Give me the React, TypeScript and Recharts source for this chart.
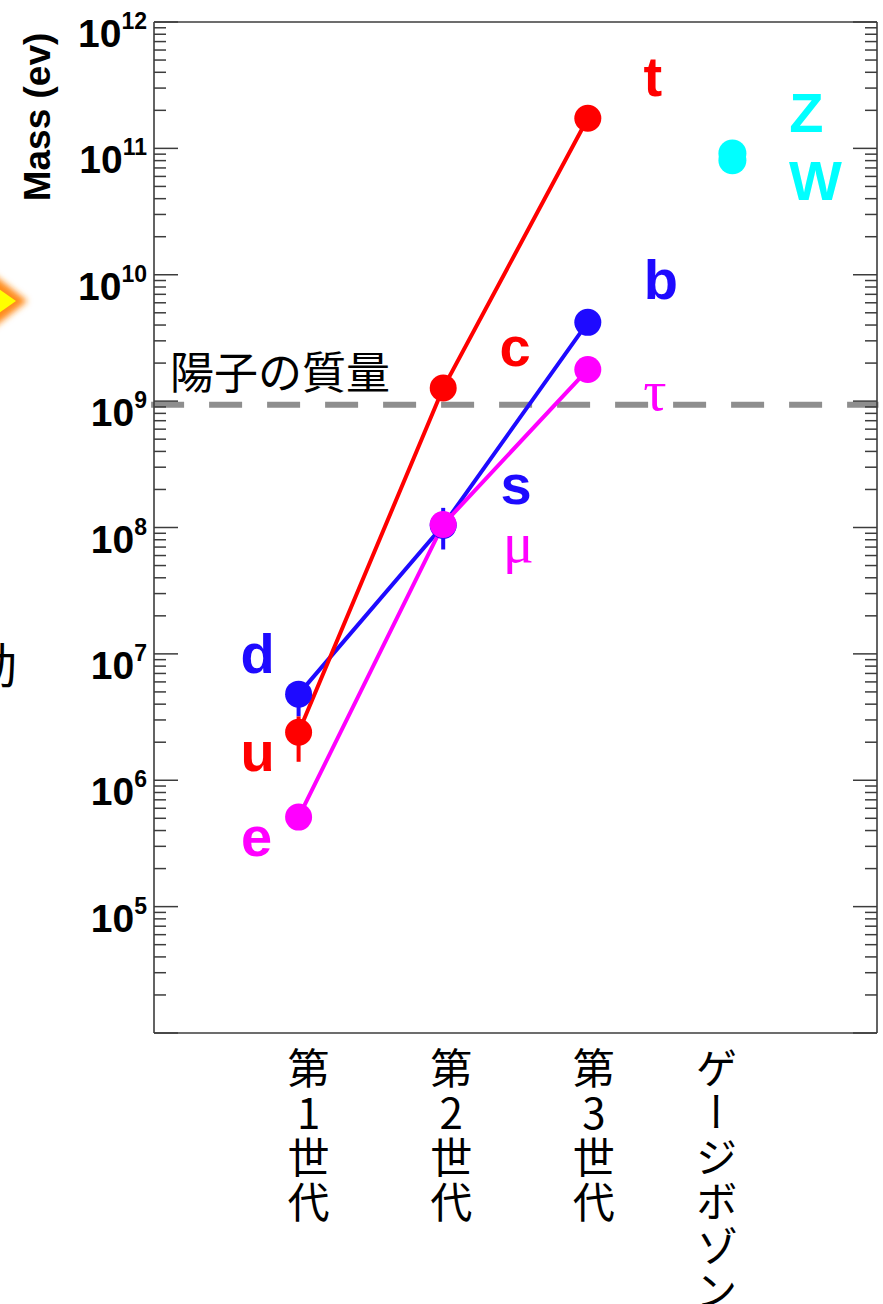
import React from "react";
import { ComposedChart, ErrorBar, LabelList, Line, ReferenceLine, XAxis, YAxis } from "recharts";

const W = 883;
const H = 1304;

// x categories (numeric positions on a 0..5 axis)
const CATEGORIES = ["第1世代", "第2世代", "第3世代", "ゲージボゾン"];
const CATEGORY_POS = [1, 2, 3, 4];

// up-type quarks
const UP_NAMES = ["u", "c", "t"];
const UP_MASS = [2.4e6, 1.27e9, 1.73e11];
const UP_ERR: [number, number][] = [[1.0e6, 0.8e6], [0, 0], [0, 0]];

// down-type quarks
const DOWN_NAMES = ["d", "s", "b"];
const DOWN_MASS = [4.8e6, 1.04e8, 4.2e9];
const DOWN_ERR: [number, number][] = [[1.6e6, 0.7e6], [3.7e7, 3.9e7], [0, 0]];

// charged leptons
const LEPTON_NAMES = ["e", "μ", "τ"];
const LEPTON_MASS = [5.11e5, 1.057e8, 1.777e9];

// gauge bosons
const BOSON_NAMES = ["Z", "W"];
const BOSON_MASS = [9.12e10, 8.04e10];
const BOSON_POS = [4, 4];

const PROTON_MASS = 9.38e8;

// axis
const DECADES = [4, 5, 6, 7, 8, 9, 10, 11, 12];
const MINOR_STEPS = [2, 3, 4, 5, 6, 7, 8, 9];
const Y_TICKS = [
  ...DECADES.map((d) => Math.pow(10, d)),
  ...DECADES.slice(0, -1).flatMap((d) => MINOR_STEPS.map((k) => k * Math.pow(10, d))),
].sort((a, b) => a - b);

const RED = "#ff0000";
const BLUE = "#1e0aff";
const MAGENTA = "#ff00ff";
const CYAN = "#00ffff";
const FRAME = "#3c3c3c";
const SANS = "'Liberation Sans', Arial, Helvetica, sans-serif";
const SERIF = "'Liberation Serif', 'Times New Roman', serif";
const CJK = "'Noto Sans CJK JP', 'Noto Sans CJK SC', sans-serif";

// letter label offsets from the marker: [dx, baseline dy]
const LETTER_OFFSET: Record<string, [number, number]> = {
  t: [65, -22],
  c: [72, -22],
  b: [73, -23],
  "τ": [67, 40],
  s: [73, -21],
  "μ": [75, 38],
  d: [-41, -21],
  u: [-41, 39],
  e: [-42, 39],
  Z: [74, -21],
  W: [83, 40],
};
const GREEK = ["μ", "τ"];

// small horizontal nudge of the vertical category labels
const CATEGORY_DX = [10, 8, 6, -16];
const ROW = 44.5;

const build = (pos: number[], names: string[], mass: number[], err?: [number, number][]) =>
  names.map((name, i) => ({ x: pos[i], mass: mass[i], name, err: err ? err[i] : [0, 0] }));

const upData = build(CATEGORY_POS, UP_NAMES, UP_MASS, UP_ERR);
const downData = build(CATEGORY_POS, DOWN_NAMES, DOWN_MASS, DOWN_ERR);
const leptonData = build(CATEGORY_POS, LEPTON_NAMES, LEPTON_MASS);
const bosonData = build(BOSON_POS, BOSON_NAMES, BOSON_MASS);

const isMajor = (v: number) => Math.abs(Math.log10(v) - Math.round(Math.log10(v))) < 1e-6;

function LeftTick(props: any) {
  const { x, y, payload } = props;
  const v = payload.value;
  const major = isMajor(v);
  const exp = Math.round(Math.log10(v));
  return (
    <g>
      <line x1={x} x2={x + (major ? 24 : 12)} y1={y} y2={y} stroke={FRAME} strokeWidth={1.5} />
      {major && exp > 4 && (
        <text x={x - 7} y={y + 25} textAnchor="end" fontFamily={SANS} fontWeight="bold" fontSize={39} fill="#000">
          10
          <tspan dy={-18} fontSize={23}>
            {exp}
          </tspan>
        </text>
      )}
    </g>
  );
}

function RightTick(props: any) {
  const { x, y, payload } = props;
  const len = isMajor(payload.value) ? 24 : 12;
  return <line x1={x - len} x2={x} y1={y} y2={y} stroke={FRAME} strokeWidth={1.5} />;
}

function CategoryTick(props: any) {
  const { x, y, payload } = props;
  const idx = CATEGORY_POS.indexOf(payload.value);
  if (idx < 0) return null;
  const cx = x + CATEGORY_DX[idx];
  const label = CATEGORIES[idx];
  if (label.includes("ー")) {
    // katakana: real vertical writing so the long vowel mark turns upright
    return (
      <text
        x={cx}
        y={y + 14}
        fontFamily={CJK}
        fontSize={42}
        fill="#000"
        letterSpacing={2.5}
        style={{ writingMode: "vertical-rl" } as any}
      >
        {label}
      </text>
    );
  }
  const chars = Array.from(label);
  return (
    <text fontFamily={CJK} fontSize={42} fill="#000" textAnchor="middle">
      {chars.map((ch, i) => (
        <tspan key={i} x={cx} y={y + 51 + i * ROW}>
          {ch}
        </tspan>
      ))}
    </text>
  );
}

function Letter(props: any) {
  const px = props.x ?? props.viewBox?.x;
  const py = props.y ?? props.viewBox?.y;
  const name = String(props.value);
  const off = LETTER_OFFSET[name];
  if (px == null || py == null || !off) return null;
  const greek = GREEK.includes(name);
  return (
    <text
      x={px + off[0]}
      y={py + off[1]}
      textAnchor="middle"
      fill={props.color}
      fontFamily={greek ? SERIF : SANS}
      fontWeight={greek ? "normal" : "bold"}
      fontSize={greek ? 58 : 56}
    >
      {name}
    </text>
  );
}

function ProtonLabel(props: any) {
  const vb = props.viewBox || { x: 151, y: 405 };
  return (
    <text x={vb.x + 19} y={vb.y - 16} fontFamily={CJK} fontSize={44} fill="#000">
      陽子の質量
    </text>
  );
}

function MassLabel(props: any) {
  const vb = props.viewBox || { x: 54, y: 22 };
  const bx = vb.x - 4;
  const cy = vb.y + 95;
  return (
    <text
      transform={`translate(${bx} ${cy}) rotate(-90)`}
      textAnchor="middle"
      fontFamily={SANS}
      fontWeight="bold"
      fontSize={37}
      fill="#000"
    >
      Mass (ev)
    </text>
  );
}

const dotStyle = (c: string, r = 13.5) => ({ r, fill: c, stroke: c, strokeWidth: 0 });

export default function App() {
  return (
    <div style={{ position: "absolute", left: 0, top: 0, width: W, height: H, background: "#fff", overflow: "hidden" }}>
      {/* pieces of the neighbouring slide that are cut off at the left edge */}
      <svg width={W} height={H} style={{ position: "absolute", left: 0, top: 0 }}>
        <defs>
          <filter id="glow" x="-50%" y="-50%" width="200%" height="200%">
            <feGaussianBlur stdDeviation="3" />
          </filter>
        </defs>
        <polygon points="-40,257 16,301 -40,345" fill="#ff8c1a" stroke="#ff8c1a" strokeWidth={14} filter="url(#glow)" />
        <polygon points="-40,262 16,301 -40,340" fill="#ffff00" />
        <text x={17} y={683} textAnchor="end" fontFamily={CJK} fontSize={48} fill="#000">
          動
        </text>
      </svg>
      <div style={{ position: "absolute", left: 0, top: 0 }}>
        <ComposedChart width={W} height={H} margin={{ top: 20, right: 0, bottom: 0, left: 54 }}>
          <XAxis
            type="number"
            dataKey="x"
            domain={[0, 5]}
            ticks={CATEGORY_POS}
            height={271}
            tickSize={0}
            tickMargin={0}
            tickLine={false}
            axisLine={{ stroke: FRAME, strokeWidth: 1.6 }}
            tick={<CategoryTick />}
            allowDataOverflow
          />
          <XAxis
            xAxisId="top"
            orientation="top"
            type="number"
            domain={[0, 5]}
            height={2}
            tick={false}
            tickLine={false}
            axisLine={{ stroke: FRAME, strokeWidth: 1.6 }}
          />
          <YAxis
            type="number"
            scale="log"
            domain={[1e4, 1e12]}
            ticks={Y_TICKS}
            interval={0}
            width={100}
            tickSize={0}
            tickMargin={0}
            tickLine={false}
            axisLine={{ stroke: FRAME, strokeWidth: 1.6 }}
            tick={<LeftTick />}
            label={<MassLabel />}
            allowDataOverflow
          />
          <YAxis
            yAxisId="right"
            orientation="right"
            type="number"
            scale="log"
            domain={[1e4, 1e12]}
            ticks={Y_TICKS}
            interval={0}
            width={6}
            tickSize={0}
            tickMargin={0}
            tickLine={false}
            axisLine={{ stroke: FRAME, strokeWidth: 1.6 }}
            tick={<RightTick />}
            allowDataOverflow
          />
          <ReferenceLine
            segment={[
              { x: -0.02, y: PROTON_MASS },
              { x: 5.01, y: PROTON_MASS },
            ]}
            ifOverflow="visible"
            stroke="#8e8e8e"
            strokeWidth={6}
            strokeDasharray="33 25"
            label={<ProtonLabel />}
          />

          <Line
            data={downData}
            dataKey="mass"
            stroke={BLUE}
            strokeWidth={4}
            dot={dotStyle(BLUE)}
            activeDot={false}
            isAnimationActive={false}
          >
            <ErrorBar dataKey="err" direction="y" width={0} stroke={BLUE} strokeWidth={4} />
            <LabelList dataKey="name" content={(p: any) => <Letter {...p} color={BLUE} />} />
          </Line>
          <Line
            data={upData}
            dataKey="mass"
            stroke={RED}
            strokeWidth={4}
            dot={dotStyle(RED)}
            activeDot={false}
            isAnimationActive={false}
          >
            <ErrorBar dataKey="err" direction="y" width={0} stroke={RED} strokeWidth={4} />
            <LabelList dataKey="name" content={(p: any) => <Letter {...p} color={RED} />} />
          </Line>
          <Line
            data={leptonData}
            dataKey="mass"
            stroke={MAGENTA}
            strokeWidth={4}
            dot={dotStyle(MAGENTA)}
            activeDot={false}
            isAnimationActive={false}
          >
            <LabelList dataKey="name" content={(p: any) => <Letter {...p} color={MAGENTA} />} />
          </Line>
          <Line
            data={bosonData}
            dataKey="mass"
            stroke="none"
            strokeWidth={0}
            dot={dotStyle(CYAN, 14)}
            activeDot={false}
            isAnimationActive={false}
          >
            <LabelList dataKey="name" content={(p: any) => <Letter {...p} color={CYAN} />} />
          </Line>
        </ComposedChart>
      </div>
    </div>
  );
}
